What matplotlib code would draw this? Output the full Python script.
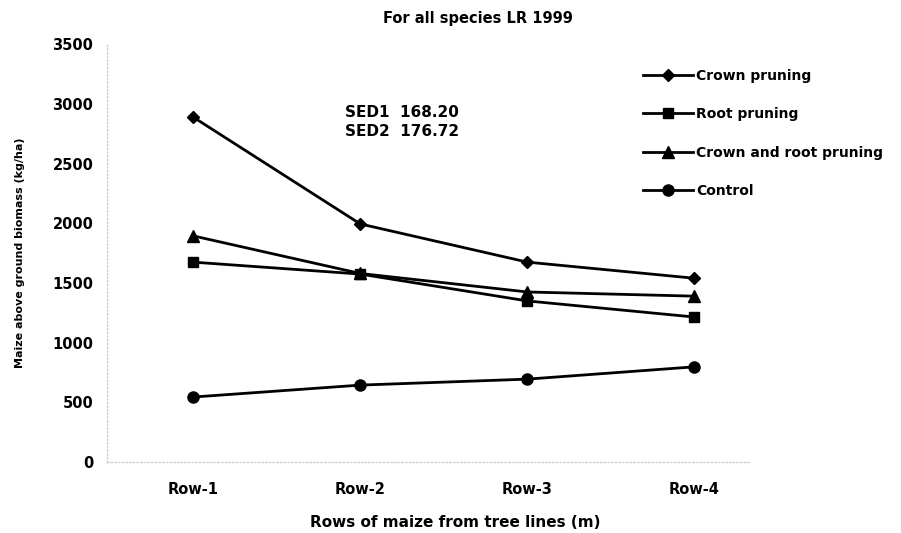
import numpy as np
import matplotlib
matplotlib.use("Agg")
import matplotlib.pyplot as plt

plt.rcParams['font.family'] = ['DejaVu Sans']
plt.rcParams['font.weight'] = 'bold'

rows = ["Row-1", "Row-2", "Row-3", "Row-4"]
crown = [2890, 1995, 1675, 1540]
root = [1675, 1575, 1350, 1215]
crown_root = [1895, 1580, 1425, 1390]
control = [545, 645, 695, 798]

fig = plt.figure(figsize=(9.01, 5.33), dpi=100)
ax = fig.add_axes([0.119, 0.133, 0.713, 0.784])

x = np.arange(len(rows))
ax.plot(x, crown, color="black", lw=2, marker="D", ms=6, label="Crown pruning")
ax.plot(x, root, color="black", lw=2, marker="s", ms=7, label="Root pruning")
ax.plot(x, crown_root, color="black", lw=2, marker="^", ms=8, label="Crown and root pruning")
ax.plot(x, control, color="black", lw=2, marker="o", ms=8, label="Control")

ax.set_xlim(-0.514, 3.33)
ax.set_ylim(0, 3500)
ax.set_yticks(np.arange(0, 3501, 500))
ax.set_xticks(x)
ax.set_xticklabels(rows)
for s in ["top", "right"]:
    ax.spines[s].set_visible(False)
for s in ["left", "bottom"]:
    ax.spines[s].set_color("#d0d0d0")
    ax.spines[s].set_linestyle(":")
    ax.spines[s].set_linewidth(1)
ax.tick_params(axis="y", length=0, pad=10, labelsize=10.5)
ax.tick_params(axis="x", length=0, pad=14, labelsize=10.5)

ax.set_ylabel("Maize above ground biomass (kg/ha)", fontsize=8, fontweight="bold", labelpad=20)
fig.text(0.505, 0.019, "Rows of maize from tree lines (m)", ha="center", va="center",
         fontsize=11, fontweight="bold")
fig.text(0.53, 0.965, "For all species LR 1999", ha="center", va="center", fontsize=10.5, fontweight="bold")

ax.text(0.91, 2990, "SED1  168.20\nSED2  176.72", fontsize=11, fontweight="bold",
        va="top", ha="left", linespacing=1.3)

leg = fig.legend(loc="upper left", bbox_to_anchor=(0.70, 0.894), frameon=False,
                 fontsize=10, handlelength=3.6, labelspacing=1.75, handletextpad=0.2)

fig.savefig("out.png", dpi=100)
